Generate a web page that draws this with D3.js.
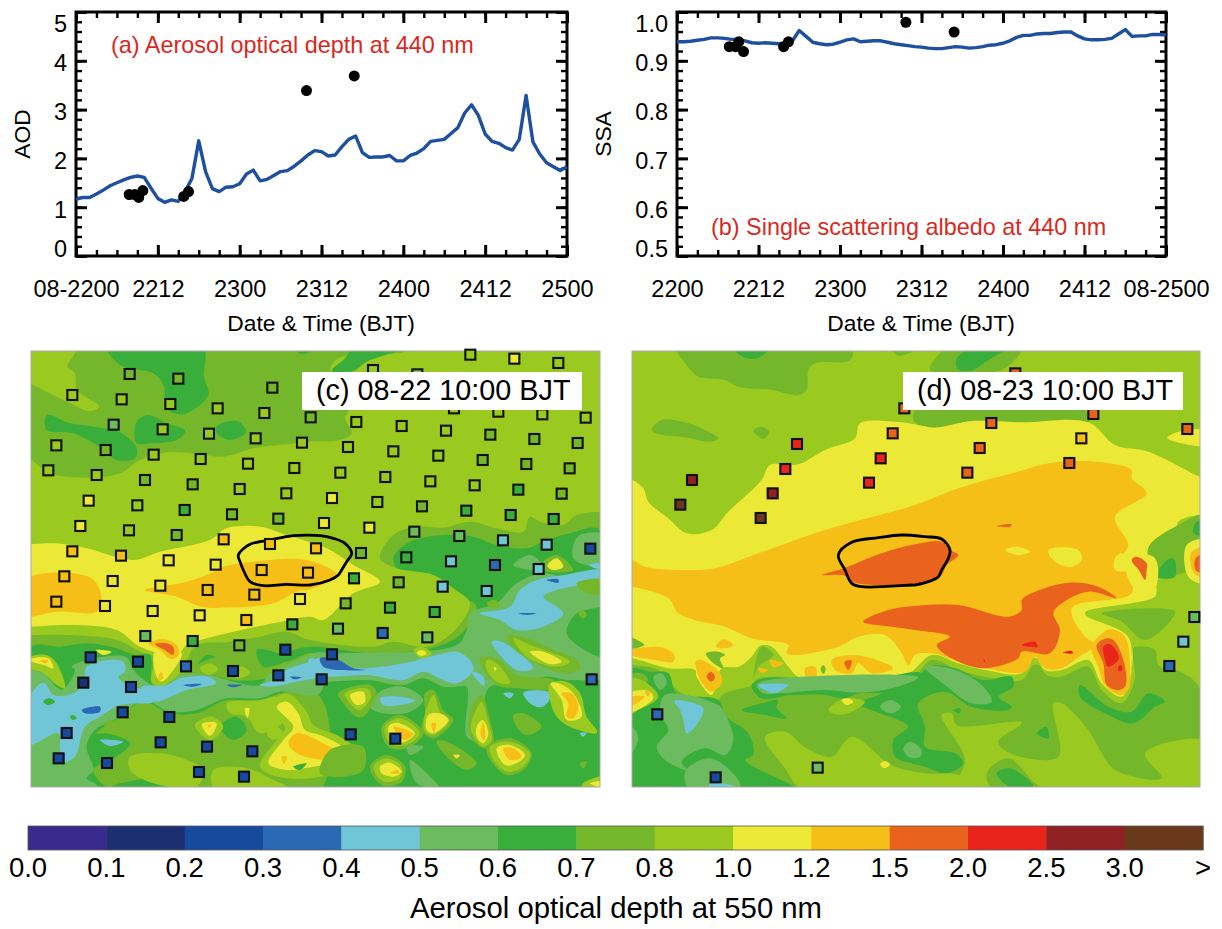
<!DOCTYPE html>
<html><head><meta charset="utf-8">
<script src="https://cdn.jsdelivr.net/npm/d3@7"></script>
<style>html,body{margin:0;padding:0;background:#fff}svg{display:block}text{font-family:"Liberation Sans",Arial,sans-serif}</style>
</head><body><svg id="c" width="1222" height="929"></svg>
<script>
// ---------- time series ----------
const hours = d3.range(0,73);
const aodLine = [1.16,1.2,1.2,1.27,1.35,1.44,1.5,1.56,1.61,1.64,1.61,1.39,1.18,1.1,1.15,1.12,1.32,1.59,2.36,1.73,1.38,1.32,1.41,1.42,1.48,1.68,1.76,1.54,1.57,1.65,1.73,1.75,1.84,1.95,2.07,2.16,2.14,2.05,2.07,2.24,2.39,2.46,2.12,2.02,2.03,2.03,2.06,1.95,1.95,2.06,2.11,2.2,2.35,2.37,2.39,2.51,2.63,2.93,3.1,2.88,2.5,2.35,2.31,2.22,2.17,2.39,3.29,2.34,2.09,1.91,1.83,1.75,1.83];
const ssaLine = [.939,.939,.94,.942,.944,.947,.947,.946,.944,.944,.941,.937,.936,.937,.936,.935,.936,.941,.962,.95,.938,.935,.933,.934,.938,.943,.945,.939,.94,.941,.941,.938,.935,.933,.931,.929,.928,.926,.925,.925,.927,.929,.928,.926,.927,.929,.932,.933,.936,.941,.948,.952,.952,.955,.956,.956,.958,.959,.959,.951,.945,.943,.943,.944,.946,.955,.964,.95,.951,.951,.954,.954,.953];
const aodObsH=[7.8,8.6,9.2,9.8,15.8,16.5,33.8,40.8], aodObs=[1.26,1.26,1.2,1.34,1.22,1.32,3.39,3.69];
const ssaObsH=[7.7,8.6,9.1,9.8,15.7,16.4,33.7,40.8], ssaObs=[.929,.929,.939,.919,.929,.939,.979,.959];
const majorH=[0,12,24,36,48,60,72], minorH=d3.range(0,73,3);
const labelsA=["08-2200","2212","2300","2312","2400","2412","2500"];
const labelsB=["2200","2212","2300","2312","2400","2412","08-2500"];
const aodTicks=[0,1,2,3,4,5], aodMinor=d3.range(0,5.01,.2);
const ssaTicks=[.5,.6,.7,.8,.9,1], ssaMinor=d3.range(.5,1.001,.02);

// ---------- colour bar ----------
const cbLabels=["0.0","0.1","0.2","0.3","0.4","0.5","0.6","0.7","0.8","1.0","1.2","1.5","2.0","2.5","3.0",">"];
const cbThresholds=[.1,.2,.3,.4,.5,.6,.7,.8,1,1.2,1.5,2,2.5,3];
const cbColors=["#3a2a8e","#1c2f70","#174a9e","#2c69b4","#70c6d6","#6cbb5f","#3aae3a","#74b72a","#9ac920","#ece936","#f5bf17","#e9631f","#e8241b","#8f2123","#6a391b"];

// ---------- map shapes, in map units (1/3 px) ----------
const TR=p=>p.map(([x,y])=>[x+870,y]), BL=p=>p.map(([x,y])=>[x,y+675]), BR=p=>p.map(([x,y])=>[x+870,y+675]);
const mapCRegions=[
[.75,[[33,18],[1740,18],[1740,1326],[33,1326]]],
[.65,[[33,905],[120,905],[200,895],[290,910],[345,930],[390,930],[395,1015],[420,1035],[490,990],[530,960],[560,930],[620,945],[690,910],[770,925],[870,905],[1060,925],[1250,905],[1325,865],[1370,785],[1310,750],[1240,715],[1150,690],[1120,640],[1170,590],[1270,570],[1360,575],[1430,600],[1520,610],[1570,590],[1650,565],[1740,555],[1760,1000],[1740,1340],[1000,1345],[20,1340],[20,1000]]],
[.9,[[20,345],[33,345],[90,385],[215,398],[300,385],[360,345],[440,322],[520,325],[610,335],[700,310],[800,298],[870,290],[960,285],[995,265],[975,220],[985,195],[930,80],[955,40],[1155,18],[1155,0],[1760,0],[1760,500],[1740,500],[1670,510],[1630,540],[1560,530],[1530,515],[1510,560],[1430,550],[1350,530],[1270,548],[1190,545],[1120,570],[1080,640],[1130,670],[1240,690],[1300,730],[1350,775],[1300,860],[1220,905],[1120,890],[1060,905],[870,885],[800,860],[720,875],[630,890],[530,900],[500,945],[480,985],[420,1025],[395,1010],[400,935],[360,920],[290,885],[150,870],[33,870],[20,870]]],
[.9,[[20,0],[168,0],[168,18],[143,65],[165,85],[172,135],[238,185],[210,198],[140,170],[33,118],[20,115]]],
[.65,[[262,5],[548,5],[552,95],[565,150],[490,208],[440,190],[430,120],[400,85],[300,60]]],
[.65,[[80,210],[150,235],[220,245],[300,262],[350,310],[345,340],[290,345],[245,310],[160,265],[80,255]]],
[.65,[[350,230],[385,210],[440,235],[495,258],[470,285],[390,295],[350,295]]],
[.65,[[590,245],[630,228],[660,232],[678,262],[630,285],[590,265]]],
[.65,[[935,78],[975,40],[1000,10],[1150,10],[1040,50],[1000,78]]],
[.65,[[820,10],[880,10],[850,28]]],
[1.1,[[20,597],[33,597],[110,595],[200,610],[340,645],[420,620],[570,585],[620,550],[720,545],[800,570],[850,585],[920,610],[1000,660],[1080,710],[1000,745],[910,825],[870,815],[760,835],[640,860],[560,880],[500,900],[470,930],[360,905],[290,855],[150,840],[33,845],[20,845]]],
[1.1,[[405,920],[410,995],[425,1010],[460,975],[485,925]]],
[1.35,[[20,703],[215,700],[245,765],[230,800],[110,800],[33,815],[20,815]]],
[1.35,[[610,665],[700,650],[860,645],[950,690],[880,730],[830,740],[760,775],[640,787],[545,785],[470,755],[375,735],[480,715],[560,690]]],
[1.35,BL([[385,220],[430,207],[470,225],[478,250],[455,268],[420,240]])],
[1.75,BL([[405,222],[440,220],[460,232],[460,255],[430,238]])],
[1.35,BL([[415,330],[422,305],[430,325]])],
// lower half
[.75,BL([[230,490],[300,440],[370,395],[450,430],[530,430],[620,390],[720,395],[780,370],[900,380],[900,660],[500,660],[480,620],[300,640],[260,650],[220,600],[290,560],[330,520],[260,490]])],
[.75,[[490,990],[560,945],[640,925],[720,895],[760,940],[800,950],[880,925],[900,985],[800,965],[740,1000],[640,1005],[570,990]]],
[.65,[[710,915],[760,920],[800,945],[730,965]]],
[.9,[[540,970],[568,955],[595,972],[565,990]]],
[.9,[[640,975],[670,965],[690,985],[650,1000]]],
[.65,BL([[600,470],[650,440],[680,480],[640,510]])],
[.55,BL([[20,300],[33,300],[70,310],[125,360],[165,300],[155,290],[240,262],[320,262],[340,300],[395,345],[425,355],[480,315],[570,315],[640,335],[720,345],[750,310],[800,285],[900,255],[900,370],[780,365],[720,385],[620,385],[530,420],[450,425],[370,390],[300,440],[225,480],[200,530],[220,600],[200,625],[230,645],[230,660],[20,660]])],
[.55,BR([[0,255],[100,250],[440,225],[470,180],[480,130],[560,100],[620,40],[700,10],[790,30],[885,10],[885,100],[800,130],[770,190],[840,250],[885,270],[885,320],[780,330],[700,320],[640,350],[540,350],[500,510],[470,500],[470,350],[440,350],[400,350],[340,325],[280,345],[170,330],[60,335],[0,340]])],
[.9,BL([[20,265],[80,255],[110,280],[135,355],[110,345],[70,310],[20,290]])],
[1.1,BL([[20,270],[85,265],[100,295],[70,285]])],
[1.35,BL([[60,272],[85,270],[78,280]])],
[1.1,BL([[228,240],[275,245],[250,255]])],
[.45,BL([[20,405],[55,345],[75,340],[100,375],[160,370],[190,340],[200,290],[250,272],[310,275],[315,305],[295,320],[315,340],[365,360],[400,395],[300,405],[240,440],[195,470],[165,560],[130,575],[120,540],[115,490],[20,525]])],
[.45,BL([[365,350],[440,345],[480,325],[570,322],[588,340],[500,360],[400,395],[365,365]])],
[.45,BL([[720,345],[760,330],[800,300],[870,275],[900,265],[900,315],[830,335],[750,350]])],
[.45,BR([[0,265],[60,290],[160,295],[280,280],[380,255],[440,245],[480,270],[490,300],[440,340],[400,330],[340,305],[280,330],[170,315],[60,320],[0,310]])],
[.45,BR([[510,130],[600,110],[630,60],[680,30],[760,15],[885,0],[885,25],[740,60],[700,80],[760,130],[700,170],[620,180],[570,150]])],
[.45,BR([[545,215],[575,215],[670,295],[620,300]])],
[.45,BR([[580,370],[610,370],[600,385]])],
[.45,BR([[640,368],[720,368],[715,395],[690,412],[660,400]])],
[.55,BR([[180,410],[210,365],[280,350],[340,390],[300,425],[220,430]])],
[.45,BR([[210,385],[270,380],[315,392],[270,405],[220,405]])],
[.45,BR([[485,305],[520,320],[522,348],[510,340]])],
[.45,BR([[810,490],[830,488],[818,500]])],
[.45,BL([[240,510],[310,515],[270,528]])],
[.35,BR([[625,130],[680,130],[650,135]])],
[.35,BR([[710,30],[745,28],[745,38]])],
[.35,BR([[30,265],[80,268],[130,295],[165,300],[90,300],[40,290]])],
[.35,BL([[185,420],[240,410],[240,425],[195,430]])],
[.35,BL([[490,345],[545,342],[520,350]])],
[.35,BL([[620,345],[665,345],[640,352]])],
[.35,BL([[810,320],[845,322],[825,328]])],
[.65,BL([[70,395],[85,385],[105,395],[85,405]])],
[.65,BL([[150,440],[160,435],[170,445],[158,450]])],
[.75,BL([[250,462],[275,450],[300,465],[270,475]])],
// peaks
[.9,BL([[620,400],[720,390],[770,380],[820,420],[800,450],[720,490],[680,440],[630,430]])],
[1.1,BL([[675,415],[688,415],[682,445]])],
[.9,BL([[740,490],[770,470],[790,490],[760,510]])],
[.9,BL([[330,560],[420,550],[500,570],[550,600],[530,650],[400,640],[330,600]])],
[.9,BL([[580,600],[640,590],[700,600],[760,630],[800,650],[580,650]])],
[.9,BL([[525,465],[575,440],[610,470],[570,510]])],
[1.1,BL([[545,462],[590,460],[570,498]])],
[1.35,BL([[562,465],[575,465],[568,473]])],
[.9,[[750,1080],[800,1045],[860,1100],[880,1140],[960,1175],[1030,1235],[960,1280],[800,1300],[720,1265],[770,1185],[795,1150]]],
[1.1,[[770,1085],[800,1070],[835,1105],[855,1155],[900,1170],[960,1200],[1005,1240],[960,1255],[880,1265],[800,1275],[745,1255],[790,1185],[820,1145]]],
[1.35,[[805,1195],[830,1165],[900,1190],[970,1235],[920,1245],[830,1225]]],
[1.35,[[785,1235],[800,1235],[792,1258]]],
[.65,BL([[820,590],[860,580],[840,600]])],
[.75,BR([[590,195],[650,205],[720,235],[800,270],[810,295],[760,310],[680,280],[610,235]])],
[.9,BR([[610,205],[660,225],[780,275],[740,290],[650,260]])],
[1.1,BR([[660,245],[700,245],[755,275],[720,282]])],
[.75,BR([[510,265],[560,265],[620,315],[730,330],[740,355],[620,355],[560,345],[520,300]])],
[.9,BR([[530,270],[560,280],[600,340],[560,335],[530,300]])],
[1.1,BR([[552,290],[560,295],[555,303]])],
[.9,BR([[720,340],[770,335],[810,370],[830,440],[860,480],[860,490],[780,470],[740,440],[720,390]])],
[1.1,BR([[722,340],[745,340],[790,370],[815,440],[770,450],[755,390]])],
[1.35,BR([[755,370],[785,370],[805,410],[790,445],[770,440],[775,400]])],
[.75,BR([[85,370],[180,345],[200,370],[160,440],[140,440],[100,400]])],
[.9,BR([[105,370],[170,355],[185,375],[150,420],[115,395]])],
[1.1,BR([[120,375],[160,365],[165,395],[140,405]])],
[.75,BR([[345,370],[370,360],[400,420],[430,450],[370,505],[335,480],[345,430]])],
[.9,BR([[355,400],[372,375],[392,430],[420,450],[370,495],[342,480]])],
[1.1,BR([[355,435],[395,432],[415,450],[370,490],[350,480]])],
[1.35,BR([[365,460],[378,460],[372,490]])],
[.75,BR([[215,470],[270,435],[340,490],[290,535],[235,530]])],
[.9,BR([[225,470],[270,445],[330,490],[290,525],[240,520]])],
[1.1,BR([[235,470],[260,458],[315,490],[285,515],[250,515]])],
[1.35,BR([[250,470],[310,492],[285,510]])],
[.75,BR([[490,400],[515,375],[540,450],[550,520],[520,535],[485,505],[475,470]])],
[.9,BR([[498,420],[515,395],[535,455],[545,510],[520,530],[492,500],[482,470]])],
[1.1,BR([[500,470],[518,450],[535,490],[520,520],[500,500]])],
[1.35,BR([[512,480],[520,455],[525,510],[515,505]])],
[.75,BR([[530,530],[600,505],[665,550],[640,600],[590,615],[545,575]])],
[.9,BR([[540,530],[600,515],[660,550],[640,590],[590,605],[550,570]])],
[1.1,BR([[560,535],[600,525],[645,555],[620,580],[585,585]])],
[1.35,BR([[580,535],[610,535],[635,560],[600,570]])],
[.75,BR([[180,590],[230,555],[285,590],[275,635],[215,645]])],
[.9,BR([[190,590],[230,565],[275,590],[270,625],[220,635]])],
[1.1,BR([[210,590],[240,578],[275,605],[250,620],[215,610]])],
[1.35,BR([[240,610],[262,600],[268,610]])],
[.75,BR([[380,515],[410,515],[500,580],[470,600],[410,560]])],
[1.1,BR([[430,555],[450,555],[440,565]])],
[.75,BR([[610,435],[640,430],[695,470],[650,495],[620,470]])],
[.75,BR([[60,540],[160,530],[160,600],[100,620],[30,610]])],
[.55,BR([[290,530],[340,530],[300,555]])],
[.55,BR([[300,570],[350,610],[385,650],[320,640]])],
[.9,BR([[310,240],[335,230],[365,250],[335,265]])],
[1.1,BR([[320,248],[335,240],[350,250],[335,258]])],
[.75,BR([[530,100],[555,90],[570,108],[548,115]])],
[.75,BR([[805,130],[818,120],[830,135],[818,145]])],
[.75,BR([[800,40],[885,30],[885,70],[830,70]])],
[.75,BR([[810,580],[830,575],[820,595]])],
[.9,BR([[820,640],[885,620],[885,665],[810,665]])],
[1.1,BR([[840,640],[885,635],[885,655]])],
[.55,TR([[610,660],[660,630],[690,650],[700,675]])],
[.75,TR([[700,650],[740,630],[790,675],[700,675]])],
[1.1,TR([[712,662],[740,640],[760,665],[730,675]])],
[.55,TR([[790,600],[810,570],[885,570],[885,650],[830,660],[790,640]])],
[.45,TR([[835,660],[885,655],[885,675]])]
];
const contourC=[[655,630],[690,598],[750,585],[820,572],[900,572],[940,580],[975,595],[995,625],[980,650],[965,675],[955,690],[930,705],[870,720],[800,718],[730,722],[690,710],[670,675],[660,650]];
const sitesC=[[329,87,.75],[475,101,.75],[757,128,.75],[157,150,.85],[305,163,.85],[451,177,.85],[593,190,.9],[733,204,.9],[872,217,.75],[281,239,.55],[428,253,.85],[567,266,.95],[707,280,.9],[846,293,.9],[109,301,.85],[257,315,.75],[401,329,.85],[542,342,.9],[684,356,.9],[823,369,.9],[85,376,.85],[230,390,.85],[375,405,.75],[518,418,.75],[659,432,.85],[799,445,.85],[206,467,1.1],[352,481,.85],[494,495,.65],[636,508,.75],[775,521,.75],[181,543,1.1],[327,556,.85],[470,570,.75],[611,583,1.3],[750,597,1.3],[888,610,1.3],[157,619,1.3],[303,632,1.3],[446,646,1.1],[587,659,1.1],[725,675,1.3],[864,683,1.3],
[133,694,1.3],[278,708,1.1],[421,722,1.1],[563,735,1.3],[703,749,1.3],[840,762,1.1],[109,770,1.3],[255,783,1.1],[398,798,1.1],[539,811,1.1],[679,825,1.3],[817,838,.65],[376,873,.55],[518,888,.65],[658,901,.75],[796,914,.25],[212,937,.25],[354,950,.25],[498,964,.35],[639,978,.25],[775,991,.25],[190,1013,.15],[333,1026,.25],[308,1102,.25],[448,1116,.25],[140,1164,.25],[422,1192,.25],[561,1205,.25],[697,1219,.25],[116,1240,.25],[261,1254,.25],[537,1281,.25],[672,1295,.25],[905,1003,.25],
[1351,29,.85],[1483,41,1.1],[1615,54,.85],[1059,75,.85],[1192,88,.85],[1302,190,.85],[1435,200,.85],[1567,208,.85],[1697,218,.85],[1009,231,.85],[1145,243,.85],[1278,257,.85],[1411,269,.75],[1543,282,.75],[1673,294,.75],[984,306,.85],[1120,319,.9],[1255,332,.85],[1388,345,.75],[1519,357,.75],[1649,370,.75],[961,383,.85],[1096,396,.85],[1231,409,.85],[1364,421,.85],[1495,434,.65],[1625,446,.75],[936,459,1.1],[1072,471,.85],[1206,484,.75],[1339,497,.65],[1472,510,.65],[1601,522,.65],[912,534,1.1],[1048,548,1.1],[1183,560,.55],[1318,573,.55],[1449,586,.45],[1580,599,.45],[1023,624,.75],[1159,637,.65],[1293,649,.45],[1425,660,.35],[1556,672,.45],[1711,611,.25],
[1002,700,.65],[1136,712,.75],[1268,725,.45],[1400,738,.45],[977,775,.75],[1110,788,.65],[1244,801,.65],[954,851,.55],[1088,864,.35],[1222,877,.55],[936,928,.25],[1715,1003,.35],[992,1168,.25],[1126,1181,.25]];

const mapDRegions=[
[.9,[[21,18],[1725,18],[1725,1326],[21,1326]]],
[.75,[[155,5],[680,5],[675,45],[570,55],[550,75],[545,135],[520,150],[440,135],[340,125],[300,105],[220,95],[185,60]]],
[.65,[[320,5],[435,5],[400,38],[360,38]]],
[.75,[[80,255],[110,225],[190,235],[240,255],[280,280],[260,290],[170,275],[110,270]]],
[.75,[[385,258],[405,245],[432,260],[415,282]]],
[.75,[[800,10],[880,10],[820,32]]],
[.75,TR([[45,75],[75,25],[100,5],[320,5],[260,75]])],
[.65,TR([[125,40],[175,10],[270,10],[205,55],[175,75],[130,75]])],
[.75,[[930,248],[870,232],[870,195],[1380,195],[1390,232],[1190,232],[1040,228],[1000,235]]],
[.75,[[0,960],[21,960],[100,975],[170,1045],[265,1075],[300,1045],[380,1020],[400,1000],[700,1010],[860,1000],[920,945],[1000,975],[1080,995],[1190,1005],[1225,960],[1240,960],[1265,990],[1310,995],[1390,965],[1430,1035],[1490,1075],[1530,1000],[1525,910],[1590,915],[1600,960],[1680,985],[1740,1060],[1750,1345],[0,1345]]],
[1.1,[[0,405],[21,405],[55,430],[70,470],[130,520],[185,565],[260,555],[310,500],[410,405],[435,360],[520,358],[600,315],[690,280],[705,235],[830,232],[930,248],[1000,235],[1040,228],[1190,232],[1390,232],[1470,300],[1570,320],[1725,395],[1745,400],[1745,510],[1725,510],[1660,530],[1650,590],[1570,610],[1590,755],[1380,805],[1510,875],[1520,975],[1490,1055],[1430,1015],[1390,945],[1310,975],[1260,975],[1235,940],[1220,940],[1190,985],[1080,975],[1000,955],[920,930],[850,985],[700,1005],[600,1000],[520,995],[490,965],[440,905],[405,903],[380,935],[340,965],[290,970],[260,1050],[215,995],[210,975],[130,970],[21,940],[0,940]]],
[1.1,TR([[757,278],[800,258],[875,258],[875,300],[800,295]])],
[.75,[[1570,610],[1660,540],[1745,510],[1745,700],[1610,690]]],
[.9,[[1590,755],[1630,700],[1745,690],[1745,1000],[1640,960],[1620,900],[1530,900],[1520,975],[1510,875],[1380,805]]],
[.75,BR([[560,130],[780,125],[690,210],[620,155]])],
[.65,TR([[845,530],[875,540],[875,570],[835,565]])],
[.65,[[1620,650],[1645,640],[1650,695],[1595,695]]],
[1.1,[[1685,600],[1745,585],[1745,715],[1690,695]]],
[1.35,[[1700,620],[1745,610],[1745,700],[1705,680]]],
[1.75,[[1712,640],[1745,625],[1745,685],[1712,675]]],
[1.35,[[0,645],[21,645],[60,665],[160,675],[270,670],[400,625],[600,555],[870,480],[1000,430],[1160,385],[1290,352],[1430,352],[1520,375],[1520,400],[1565,445],[1470,515],[1510,600],[1490,640],[1510,680],[1520,745],[1340,790],[1380,875],[1415,900],[1370,930],[1310,970],[1260,970],[1230,935],[1200,980],[1080,970],[1000,950],[920,925],[870,930],[850,960],[830,925],[780,870],[700,875],[640,905],[510,930],[485,925],[490,900],[380,880],[300,845],[210,825],[160,805],[130,760],[21,725],[0,725]]],
[1.1,TR([[270,615],[305,605],[345,620],[310,630]])],
[1.1,TR([[400,615],[490,615],[500,645],[470,665],[420,650]])],
[1.1,TR([[600,640],[620,625],[640,675],[600,675]])],
[1.1,[[1500,630],[1530,625],[1590,640],[1595,720],[1570,745],[1520,720]]],
[1.75,[[1520,645],[1535,635],[1565,655],[1565,675],[1560,705],[1545,680]]],
[1.75,[[592,690],[650,672],[770,625],[870,598],[950,590],[975,615],[1000,630],[965,660],[950,690],[905,715],[760,720],[680,710],[660,692]]],
[1.75,[[715,830],[790,795],[870,783],[1000,780],[1150,815],[1190,795],[1190,765],[1230,740],[1330,713],[1420,725],[1475,760],[1390,740],[1310,775],[1285,805],[1305,855],[1275,925],[1190,920],[1180,940],[1075,970],[980,940],[935,900],[975,875],[870,855],[800,845]]],
[1.75,TR([[245,543],[290,538],[285,545]])],
[2.25,BR([[320,225],[360,215],[368,230]])],
[2.25,BR([[445,248],[470,243],[475,250]])],
[2.25,BR([[205,270],[210,270],[208,276]])],
[1.35,BR([[530,230],[585,178],[630,200],[645,290],[640,360],[615,375],[570,345],[550,290]])],
[1.75,BR([[545,225],[578,205],[600,215],[630,290],[630,350],[605,360],[575,345],[565,280]])],
[2.25,BR([[565,230],[585,222],[612,265],[580,290],[568,260]])],
[2.25,BR([[610,290],[618,285],[622,300],[610,302]])],
[1.35,BL([[620,270],[680,255],[740,265],[805,295],[740,310],[700,280],[680,310],[630,300]])],
[1.75,BL([[658,275],[680,272],[670,300]])],
[1.35,BL([[540,295],[570,290],[575,315],[545,325]])],
[.75,BL([[595,285],[602,298],[595,312],[587,298]])],
[1.35,BL([[400,295],[430,300],[410,308]])],
[1.35,BL([[435,270],[475,280],[445,292]])],
[1.35,BL([[273,230],[295,208],[325,225],[300,235]])],
[1.35,BL([[0,245],[110,232],[148,255],[145,275],[90,270],[0,250]])],
[.75,BL([[0,200],[58,225],[0,235]])],
[.75,BL([[243,250],[280,245],[300,255],[285,265],[295,295],[260,275]])],
[.75,BL([[385,325],[410,230],[445,255],[400,290]])],
[1.35,BL([[212,275],[230,270],[285,310],[290,340],[258,365],[225,330],[215,300]])],
[1.75,BL([[245,318],[258,305],[270,322],[258,335]])],
// lower half
[.65,BL([[0,300],[80,305],[130,310],[155,370],[280,390],[305,440],[370,490],[385,555],[360,570],[500,645],[540,670],[0,670]])],
[.55,BL([[85,320],[110,310],[125,340],[105,360]])],
[.55,BL([[120,375],[280,405],[305,440],[325,510],[300,555],[240,535],[170,575],[185,600],[120,570],[95,530],[130,480],[105,430]])],
[.45,BL([[148,392],[190,395],[235,415],[215,465],[185,490],[175,450],[165,420]])],
[.55,BL([[180,605],[255,565],[340,630],[345,670],[200,670]])],
[.45,BL([[255,640],[330,650],[255,660]])],
[.55,BL([[5,460],[40,500],[5,570]])],
[.75,BL([[0,320],[50,310],[70,330],[40,350],[0,380]])],
[.9,BL([[0,330],[50,330],[100,380],[40,420],[0,440]])],
[1.1,BL([[0,375],[70,362],[85,385],[0,430]])],
[1.35,BL([[0,385],[60,380],[0,415]])],
[1.35,BL([[60,365],[75,365],[70,380]])],
[.65,BL([[380,345],[420,325],[600,330],[780,320],[890,310],[900,350],[820,370],[700,370],[660,385],[600,375],[500,375],[410,385]])],
[.55,BL([[395,345],[430,330],[880,322],[800,355],[700,368],[600,360],[460,370],[415,370]])],
[.45,BL([[400,345],[490,345],[445,370]])],
[.65,BL([[350,420],[430,395],[460,390],[455,415],[485,445],[420,435]])],
[.65,[[700,1075],[760,1050],[870,1010],[910,965],[990,970],[1070,1005],[1160,995],[1165,1025],[1120,1055],[1160,1085],[1150,1095],[1040,1085],[960,1040],[880,1075],[900,1145],[900,1205],[990,1225],[1015,1255],[965,1285],[900,1265],[860,1255],[810,1235],[805,1185],[850,1145],[820,1125],[765,1105]]],
[.55,[[900,965],[990,975],[1070,1020],[1100,1070],[1040,1075],[960,1020]]],
[.55,BL([[765,410],[795,390],[828,410],[800,430]])],
[.55,[[835,1210],[855,1190],[890,1215],[885,1235],[850,1235]]],
[.9,BL([[610,420],[660,385],[720,395],[670,430],[630,432]])],
[1.1,BL([[650,390],[670,385],[685,395],[665,405]])],
[.9,BL([[420,500],[480,485],[545,535],[620,560],[680,500],[800,585],[900,610],[1000,615],[1050,665],[540,665],[480,595]])],
[1.1,BL([[765,583],[780,573],[795,583],[780,595]])],
[.9,BR([[80,435],[110,430],[125,465],[320,458],[250,515],[285,550],[430,560],[415,400],[440,400],[520,480],[555,540],[600,600],[740,625],[690,550],[875,515],[875,665],[120,665],[150,570]])],
[.75,BR([[215,610],[280,565],[360,640],[400,665],[240,665]])],
[.65,BR([[245,610],[285,595],[355,650],[300,660]])],
[.65,BR([[365,490],[395,470],[400,505]])],
[.75,BR([[550,530],[580,515],[605,540],[580,558]])],
[.65,BR([[115,420],[135,415],[135,430]])],
[.65,BR([[495,345],[580,410],[650,425],[700,370],[750,395],[720,410],[655,460],[570,430],[495,380]])]
];
const contourD=[[640,630],[680,592],[760,578],[830,570],[900,575],[950,582],[975,615],[970,640],[950,675],[940,695],[910,710],[870,720],[860,720],[710,725],[680,715],[660,675]];
const sitesD=[[838,190,1.7],[803,265,1.7],[767,340,2.2],[732,413,2.2],[516,297,2.2],[481,372,2.2],[443,445,2.7],[407,519,3.2],[201,405,2.7],[166,479,3.2],[1171,85,1.7],[1405,207,1.7],[1099,234,1.7],[1064,309,1.7],[1027,383,1.7],[1369,280,1.3],[1333,354,1.7],[1687,252,1.7],[1708,816,.55],[1675,890,.45],[1633,963,.35],[97,1108,.35],[272,1297,.25],[578,1268,.55]];

// ---------- drawing ----------
const svg=d3.select("#c");
const color=d3.scaleThreshold().domain(cbThresholds).range(cbColors);

function panel(o){
  const x=d3.scaleLinear().domain([0,72]).range([o.l,o.r]);
  const y=d3.scaleLinear().domain(o.dom).range([256,12]);
  const g=svg.append("g");
  const ax=(fn,vals,size,tx,ty,fmt)=>{
    const a=fn.tickValues(vals).tickSize(-size).tickFormat(fmt||"");
    const s=g.append("g").attr("transform",`translate(${tx},${ty})`).call(a);
    s.select(".domain").remove();
    s.selectAll("line").attr("stroke","#000").attr("stroke-width",size>7?3:2.4);
    return s;
  };
  ax(d3.axisBottom(x),minorH,6,0,256); ax(d3.axisTop(x),minorH,6,0,12);
  ax(d3.axisLeft(y),o.minor,6,o.l,0); ax(d3.axisRight(y),o.minor,6,o.r,0);
  ax(d3.axisTop(x),majorH,11,0,12); ax(d3.axisRight(y),o.ticks,11,o.r,0);
  const bx=ax(d3.axisBottom(x),majorH,11,0,256,(d,i)=>o.xl[i]);
  bx.selectAll("text").attr("font-size",23.5).attr("fill","#000").attr("y",0).attr("dy",0)
    .attr("transform","translate(0,41)");
  const by=ax(d3.axisLeft(y),o.ticks,11,o.l,0,o.fmt);
  by.selectAll("text").attr("font-size",23.5).attr("fill","#000").attr("x",-9).attr("dy",0)
    .attr("transform",(d,i)=>`translate(0,${i===0?0:i===o.ticks.length-1?19:10})`);
  g.append("rect").attr("x",o.l).attr("y",12).attr("width",o.r-o.l).attr("height",244).attr("fill","none").attr("stroke","#000").attr("stroke-width",3);
  g.append("path").datum(hours).attr("fill","none").attr("stroke","#1f4f9f").attr("stroke-width",3.4)
    .attr("stroke-linejoin","round").attr("d",d3.line().x(d=>x(d)).y(d=>y(o.line[d])));
  g.selectAll("circle").data(o.obsH).join("circle").attr("cx",d=>x(d)).attr("cy",(d,i)=>y(o.obs[i])).attr("r",5.5).attr("fill","#000");
  g.append("text").attr("x",o.tx).attr("y",o.ty).attr("font-size",23.4).attr("fill","#d8291e").text(o.title);
  g.append("text").attr("x",(o.l+o.r)/2-0.5).attr("y",331).attr("text-anchor","middle").attr("font-size",22.8).text("Date & Time (BJT)");
  g.append("text").attr("transform",`translate(${o.yx},134) rotate(-90)`).attr("text-anchor","middle").attr("font-size",22.8).text(o.yl);
}
panel({l:76,r:567,dom:[0,5],ticks:aodTicks,minor:aodMinor,fmt:d3.format("d"),line:aodLine,obsH:aodObsH,obs:aodObs,xl:labelsA,
  title:"(a) Aerosol optical depth at 440 nm",tx:111,ty:53,yl:"AOD",yx:30});
panel({l:677,r:1166,dom:[.5,1],ticks:ssaTicks,minor:ssaMinor,fmt:d3.format(".1f"),line:ssaLine,obsH:ssaObsH,obs:ssaObs,xl:labelsB,
  title:"(b) Single scattering albedo at 440 nm",tx:711,ty:235,yl:"SSA",yx:611});

function drawMap(o){
  const x=d3.scaleLinear().domain([0,3]).range([o.x0,o.x0+1]);
  const y=d3.scaleLinear().domain([0,3]).range([345,346]);
  const id="clip"+o.name;
  svg.append("clipPath").attr("id",id).append("rect").attr("x",o.fx0).attr("y",351).attr("width",o.fx1-o.fx0).attr("height",436);
  const g=svg.append("g");
  const smooth=d3.line().x(d=>x(d[0])).y(d=>y(d[1])).curve(d3.curveCatmullRomClosed.alpha(.5));
  const straight=d3.line().x(d=>x(d[0])).y(d=>y(d[1]));
  g.append("g").attr("clip-path",`url(#${id})`).selectAll("path").data(o.regions).join("path")
    .attr("d",(d,i)=>i===0?straight(d[1])+"Z":smooth(d[1])).attr("fill",d=>color(d[0]));
  g.append("rect").attr("x",o.fx0).attr("y",351).attr("width",o.fx1-o.fx0).attr("height",436).attr("fill","none").attr("stroke","#aaa").attr("stroke-width",1);
  g.append("path").attr("d",smooth(o.contour)).attr("fill","none").attr("stroke","#000").attr("stroke-width",2.8);
  g.selectAll("rect.site").data(o.sites).join("rect").attr("class","site")
    .attr("x",d=>x(d[0])-5).attr("y",d=>y(d[1])-5).attr("width",10).attr("height",10)
    .attr("fill",d=>color(d[2])).attr("stroke","#111").attr("stroke-width",2.1);
  g.append("rect").attr("x",o.bx).attr("y",372).attr("width",280).attr("height",38).attr("fill","#fff");
  g.append("text").attr("x",o.lx).attr("y",400).attr("font-size",28.8).attr("fill","#000").text(o.label);
}
drawMap({name:"c",x0:20,fx0:31,fx1:600,regions:mapCRegions,contour:contourC,sites:sitesC,bx:302,lx:316,label:"(c) 08-22 10:00 BJT"});
drawMap({name:"d",x0:625,fx0:632,fx1:1200,regions:mapDRegions,contour:contourD,sites:sitesD,bx:903,lx:917,label:"(d) 08-23 10:00 BJT"});

// colour bar
const cb=d3.scaleLinear().domain([0,15]).range([28,1203]);
svg.append("g").selectAll("rect").data(cbColors).join("rect").attr("x",(d,i)=>cb(i)).attr("y",826).attr("width",cb(1)-cb(0)+.5).attr("height",24).attr("fill",d=>d);
svg.append("rect").attr("x",28).attr("y",826).attr("width",1175).attr("height",24).attr("fill","none").attr("stroke","#555").attr("stroke-width",.8);
svg.append("g").selectAll("text").data(cbLabels).join("text").attr("x",(d,i)=>cb(i)).attr("y",877).attr("text-anchor","middle").attr("font-size",27.5).text(d=>d);
svg.append("text").attr("x",616).attr("y",918).attr("text-anchor","middle").attr("font-size",29.3).text("Aerosol optical depth at 550 nm");
</script></body></html>
